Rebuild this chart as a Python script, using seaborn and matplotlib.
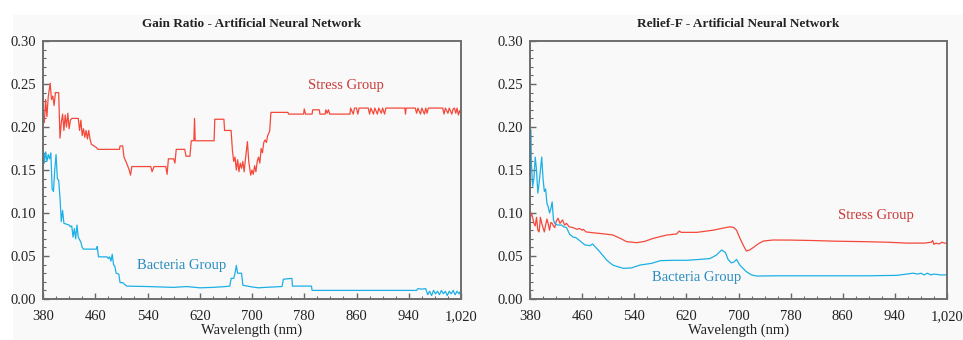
import numpy as np
import pandas as pd
import matplotlib
matplotlib.use("Agg")
import matplotlib.pyplot as plt
from matplotlib.patches import Rectangle
from matplotlib.ticker import MultipleLocator, FixedLocator, FuncFormatter
import seaborn as sns

# ---- data ----
# Gain Ratio - stress group
gr_stress_wl = [380, 382, 384, 386, 388, 391, 393, 395, 397, 399, 404, 406, 408, 410, 412, 414, 416, 418,
                420, 422, 424, 434, 436, 438, 440, 442, 444, 446, 448, 450, 452, 454, 462, 464, 497, 498,
                502, 504, 508, 512, 514, 516, 545, 547, 550, 568, 570, 572, 580, 582, 584, 597, 599, 605,
                607, 611, 612, 613, 642, 643, 657, 658, 668, 670, 672, 674, 676, 678, 680, 682, 684, 686,
                688, 690, 693, 695, 698, 700, 702, 704, 706, 708, 710, 712, 714, 716, 718, 720, 722, 724,
                727, 729, 755, 756, 779, 780, 782, 792, 793, 803, 804, 812, 813, 815, 817, 819, 850, 851,
                855, 857, 860, 862, 864, 878, 880, 882, 886, 888, 892, 894, 898, 900, 903, 905, 934, 935,
                936, 950, 952, 954, 958, 960, 964, 966, 968, 970, 992, 994, 996, 1000, 1002, 1006, 1008,
                1010, 1012, 1014, 1016, 1018, 1020]
gr_stress_val = [0.215, 0.205, 0.232, 0.212, 0.235, 0.251, 0.232, 0.236, 0.225, 0.240, 0.240, 0.187, 0.205,
                 0.215, 0.196, 0.214, 0.200, 0.216, 0.198, 0.208, 0.210, 0.210, 0.196, 0.208, 0.190, 0.198,
                 0.188, 0.196, 0.186, 0.196, 0.186, 0.180, 0.176, 0.174, 0.174, 0.178, 0.178, 0.165, 0.158,
                 0.150, 0.144, 0.154, 0.154, 0.148, 0.154, 0.154, 0.145, 0.163, 0.163, 0.158, 0.174, 0.174,
                 0.166, 0.166, 0.184, 0.184, 0.210, 0.184, 0.184, 0.209, 0.209, 0.196, 0.196, 0.173, 0.160,
                 0.165, 0.150, 0.162, 0.148, 0.158, 0.152, 0.160, 0.148, 0.163, 0.183, 0.160, 0.144, 0.150,
                 0.145, 0.155, 0.148, 0.160, 0.165, 0.158, 0.175, 0.170, 0.182, 0.185, 0.182, 0.190, 0.195,
                 0.217, 0.217, 0.215, 0.215, 0.221, 0.215, 0.215, 0.220, 0.220, 0.215, 0.215, 0.220, 0.216,
                 0.220, 0.215, 0.215, 0.222, 0.215, 0.222, 0.222, 0.215, 0.222, 0.222, 0.215, 0.222, 0.215,
                 0.222, 0.215, 0.222, 0.216, 0.222, 0.215, 0.222, 0.222, 0.215, 0.222, 0.222, 0.216, 0.222,
                 0.215, 0.222, 0.215, 0.222, 0.216, 0.222, 0.222, 0.215, 0.222, 0.216, 0.222, 0.215, 0.221,
                 0.222, 0.216, 0.222, 0.214, 0.219, 0.215]

# Gain Ratio - bacteria group
gr_bact_wl = [380, 381, 382, 384, 386, 388, 390, 392, 394, 396, 398, 400, 402, 404, 406, 408, 410, 412, 420,
              422, 424, 426, 428, 430, 432, 434, 436, 438, 440, 442, 462, 463, 465, 478, 480, 482, 484, 486,
              488, 490, 492, 496, 498, 502, 505, 508, 540, 560, 580, 600, 620, 640, 660, 666, 668, 672, 674,
              676, 678, 684, 686, 700, 710, 720, 746, 748, 761, 762, 791, 792, 952, 954, 960, 966, 969, 972,
              975, 978, 981, 984, 987, 990, 993, 996, 999, 1002, 1005, 1008, 1011, 1014, 1017, 1020]
gr_bact_val = [0.160, 0.170, 0.158, 0.171, 0.160, 0.168, 0.163, 0.170, 0.128, 0.125, 0.150, 0.168, 0.140,
               0.138, 0.118, 0.090, 0.103, 0.088, 0.086, 0.084, 0.085, 0.072, 0.082, 0.070, 0.086, 0.072,
               0.069, 0.066, 0.060, 0.058, 0.058, 0.061, 0.049, 0.049, 0.047, 0.049, 0.044, 0.052, 0.040,
               0.038, 0.030, 0.029, 0.019, 0.019, 0.017, 0.015, 0.0145, 0.014, 0.0135, 0.0145, 0.013, 0.0135,
               0.0145, 0.015, 0.024, 0.024, 0.030, 0.039, 0.030, 0.030, 0.016, 0.014, 0.013, 0.0135, 0.0145,
               0.023, 0.024, 0.015, 0.015, 0.010, 0.010, 0.012, 0.0115, 0.012, 0.005, 0.009, 0.004, 0.010,
               0.006, 0.009, 0.005, 0.010, 0.006, 0.009, 0.004, 0.009, 0.006, 0.010, 0.005, 0.009, 0.006,
               0.010]

# Relief-F - stress group
rf_stress_wl = [380, 382, 384, 386, 388, 390, 392, 394, 396, 398, 400, 402, 404, 406, 408, 410, 412, 414,
                416, 418, 420, 423, 426, 430, 433, 436, 440, 446, 452, 456, 460, 462, 466, 477, 490, 507,
                520, 528, 544, 556, 569, 590, 605, 609, 612, 620, 636, 661, 680, 687, 693, 697, 702, 707,
                712, 717, 723, 730, 738, 753, 780, 814, 850, 891, 930, 958, 985, 996, 998, 1000, 1003, 1008,
                1012, 1016, 1020]
rf_stress_val = [0.092, 0.100, 0.095, 0.088, 0.085, 0.095, 0.080, 0.078, 0.095, 0.088, 0.083, 0.078, 0.086,
                 0.093, 0.087, 0.080, 0.089, 0.088, 0.085, 0.083, 0.090, 0.094, 0.088, 0.092, 0.086, 0.088,
                 0.084, 0.083, 0.081, 0.082, 0.080, 0.081, 0.078, 0.077, 0.076, 0.0745, 0.070, 0.0667,
                 0.0655, 0.067, 0.0705, 0.0744, 0.0756, 0.079, 0.0775, 0.0775, 0.0775, 0.080, 0.083, 0.084,
                 0.083, 0.080, 0.071, 0.063, 0.0558, 0.057, 0.060, 0.064, 0.0674, 0.0686, 0.0685, 0.068,
                 0.0672, 0.0667, 0.066, 0.065, 0.065, 0.066, 0.068, 0.0635, 0.065, 0.064, 0.066, 0.065,
                 0.065]

# Relief-F - bacteria group
rf_bact_wl = [380, 381, 382, 384, 386, 388, 390, 392, 394, 396, 398, 400, 402, 404, 406, 408, 410, 412, 414,
              416, 418, 422, 428, 432, 436, 441, 443, 446, 450, 456, 464, 472, 476, 487, 498, 507, 515, 523,
              535, 549, 567, 580, 600, 620, 640, 656, 666, 674, 680, 684, 689, 693, 697, 702, 712, 720, 728,
              760, 800, 850, 900, 943, 968, 975, 980, 985, 990, 995, 1000, 1010, 1020]
rf_bact_val = [0.107, 0.197, 0.160, 0.131, 0.140, 0.165, 0.150, 0.123, 0.135, 0.150, 0.165, 0.140, 0.125,
               0.128, 0.111, 0.107, 0.100, 0.105, 0.113, 0.092, 0.088, 0.086, 0.086, 0.084, 0.083, 0.075,
               0.074, 0.072, 0.0715, 0.068, 0.063, 0.062, 0.064, 0.055, 0.045, 0.0395, 0.0375, 0.0357, 0.036,
               0.0395, 0.0415, 0.0446, 0.045, 0.045, 0.046, 0.047, 0.051, 0.057, 0.054, 0.046, 0.042, 0.043,
               0.046, 0.0395, 0.0318, 0.028, 0.0267, 0.027, 0.027, 0.027, 0.027, 0.0275, 0.030, 0.029, 0.030,
               0.028, 0.030, 0.028, 0.029, 0.028, 0.028]

x_ticks = [380, 460, 540, 620, 700, 780, 860, 940, 1020]
y_ticks = [0.00, 0.05, 0.10, 0.15, 0.20, 0.25, 0.30]

panels = [
    ("Gain Ratio - Artificial Neural Network", gr_stress_wl, gr_stress_val, gr_bact_wl, gr_bact_val,
     (346, 85), (182, 265)),
    ("Relief-F - Artificial Neural Network", rf_stress_wl, rf_stress_val, rf_bact_wl, rf_bact_val,
     (876, 216), (697, 277)),
]

STRESS_LINE = "#f4493a"
BACT_LINE = "#1cb0e6"
STRESS_TEXT = "#c93a38"
BACT_TEXT = "#2a8cc0"
BG = "#f9f9f9"

sns.set_theme(style="ticks")
plt.rcParams["font.family"] = ["Liberation Serif", "DejaVu Serif"]

W, H = 963, 340
fig = plt.figure(figsize=(W / 100, H / 100), dpi=100)
fig.patch.set_facecolor("white")
fig.add_artist(Rectangle((13 / W, 0), 1 - 13 / W, 1 - 15 / H, transform=fig.transFigure,
                         facecolor=BG, edgecolor="none", zorder=0))

ax_boxes = [(43, 461), (530, 947)]
top_px, bot_px = 41, 299

for (title, s_wl, s_val, b_wl, b_val, s_pos, b_pos), (x0, x1) in zip(panels, ax_boxes):
    ax = fig.add_axes([x0 / W, 1 - bot_px / H, (x1 - x0) / W, (bot_px - top_px) / H])
    ax.set_facecolor(BG)

    df_s = pd.DataFrame({"wl": s_wl, "val": s_val})
    df_b = pd.DataFrame({"wl": b_wl, "val": b_val})
    sns.lineplot(data=df_s, x="wl", y="val", ax=ax, color=STRESS_LINE, lw=0.9,
                 estimator=None, sort=False)
    sns.lineplot(data=df_b, x="wl", y="val", ax=ax, color=BACT_LINE, lw=0.9,
                 estimator=None, sort=False)

    ax.set_xlim(x_ticks[0], x_ticks[-1])
    ax.set_ylim(y_ticks[0], y_ticks[-1])
    ax.xaxis.set_major_locator(FixedLocator(x_ticks))
    ax.xaxis.set_minor_locator(MultipleLocator(20))
    ax.yaxis.set_major_locator(FixedLocator(y_ticks))
    ax.yaxis.set_minor_locator(MultipleLocator(0.01))
    ax.xaxis.set_major_formatter(FuncFormatter(lambda v, p: f"{v:,.0f}"))
    ax.yaxis.set_major_formatter(FuncFormatter(lambda v, p: f"{v:.2f}"))
    ax.tick_params(which="both", direction="in", colors="#666666", labelcolor="#222222",
                   labelsize=10.5, top=False, right=False)
    ax.tick_params(which="major", length=4, width=1, pad=5)
    ax.tick_params(axis="x", which="major", pad=8)
    ax.tick_params(which="minor", length=2.5, width=0.8)
    for sp in ax.spines.values():
        sp.set_visible(True)
        sp.set_color("#6e6e6e")
        sp.set_linewidth(1.4)

    ax.set_xlabel("Wavelength (nm)", fontsize=10.5, color="#222222", labelpad=0)
    ax.set_ylabel("")
    ax.set_title(title, fontsize=9.5, fontweight="bold", color="#222222", pad=10)

    # group labels placed in pixel positions converted to data
    for (px, py), txt, col in [(s_pos, "Stress Group", STRESS_TEXT), (b_pos, "Bacteria Group", BACT_TEXT)]:
        xd = 380 + (px - x0) / (x1 - x0) * 640
        yd = (bot_px - py) / (bot_px - top_px) * 0.30
        ax.text(xd, yd, txt, color=col, fontsize=10.5, ha="center", va="center")

fig.savefig("out.png", dpi=100, facecolor=fig.get_facecolor())
